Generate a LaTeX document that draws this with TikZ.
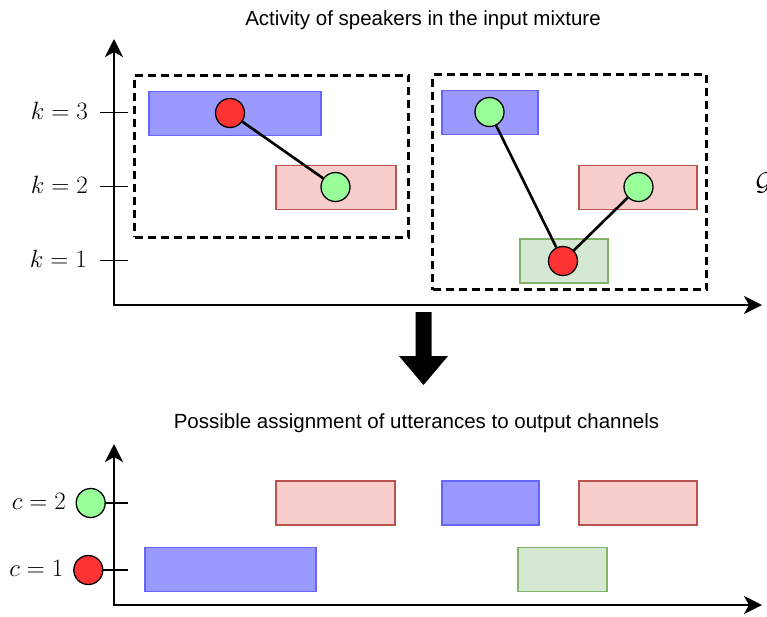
\RequirePackage{fix-cm}
\documentclass[tikz,border=0pt]{standalone}
\usepackage{fontspec}
\newfontfamily\labelsans{Liberation Sans}
\usetikzlibrary{arrows.meta}
\definecolor{spkblue}{HTML}{9999FF}
\definecolor{spkbluedraw}{HTML}{6666FF}
\definecolor{spkred}{HTML}{F8CECC}
\definecolor{spkreddraw}{HTML}{B85450}
\definecolor{spkgreen}{HTML}{D5E8D4}
\definecolor{spkgreendraw}{HTML}{82B366}
\definecolor{dotred}{HTML}{FF3333}
\definecolor{dotgreen}{HTML}{99FF99}
\begin{document}
\begin{tikzpicture}[x=1pt,y=-1pt,
  box/.style={draw, line width=1.1pt, inner sep=0pt, minimum height=44pt},
  bluebox/.style={box, fill=spkblue, draw=spkbluedraw},
  redbox/.style={box, fill=spkred, draw=spkreddraw},
  greenbox/.style={box, fill=spkgreen, draw=spkgreendraw},
  dot/.style={circle, draw=black, line width=1.3pt, minimum size=29pt, inner sep=0pt},
  reddot/.style={dot, fill=dotred},
  greendot/.style={dot, fill=dotgreen},
  link/.style={line width=2.6pt},
  axis/.style={line width=2.6pt, {Stealth[length=18pt,width=18pt,inset=5pt]}-{Stealth[length=18pt,width=18pt,inset=5pt]}},
  tickmark/.style={line width=1.2pt},
  group/.style={draw, line width=3pt, dash pattern=on 8pt off 5pt, inner sep=0pt},
  mathlabel/.style={anchor=base east, inner sep=0pt, font=\fontsize{25}{30}\selectfont},
  title/.style={anchor=base, inner sep=0pt, font=\labelsans\fontsize{20.5}{24}\selectfont}
]
\useasboundingbox (0,0) rectangle (767,616);

% ---------- upper panel: speaker activity ----------
\node[title] (toptitle) at (423,25) {Activity of speakers in the input mixture};

\coordinate (o1) at (114,305);
\coordinate (ytop1) at (114,39);
\coordinate (xend1) at (762,305);
\draw[axis] (ytop1) -- (o1) -- (xend1);

\draw[tickmark] (100,112.7) -- (128,112.7);
\draw[tickmark] (100,186.7) -- (128,186.7);
\draw[tickmark] (100,260.7) -- (128,260.7);
\node[mathlabel] (k3) at (88,119) {$k=3$};
\node[mathlabel] (k2) at (88,193) {$k=2$};
\node[mathlabel] (k1) at (87,267) {$k=1$};

% groups of overlapping utterances
\node[group, minimum width=274pt, minimum height=162pt] (grpA) at (271.5,156) {};
\node[group, minimum width=274pt, minimum height=215pt] (grpB) at (569.5,182) {};
\node[anchor=base west, inner sep=0pt, font=\fontsize{26}{30}\selectfont] (graph) at (755.5,190) {$\mathcal{G}$};

% utterances
\node[bluebox, minimum width=172pt] (uA3) at (235,113.5) {};
\node[redbox, minimum width=120pt] (uA2) at (336,187.5) {};
\node[bluebox, minimum width=96pt] (uB3) at (490,112.5) {};
\node[redbox, minimum width=118pt] (uB2) at (638,187.5) {};
\node[greenbox, minimum width=88pt] (uB1) at (564,261) {};

% colouring of the overlap graph
\node[reddot] (vA3) at (230,113) {};
\node[greendot] (vA2) at (335.5,187) {};
\node[greendot] (vB3) at (489.5,112) {};
\node[greendot] (vB2) at (638.5,187) {};
\node[reddot] (vB1) at (563,261) {};
\draw[link] (vA3) -- (vA2);
\draw[link] (vB3) -- (vB1);
\draw[link] (vB2) -- (vB1);

% ---------- transition arrow ----------
\fill (415.5,312) -- (431.5,312) -- (431.5,356) -- (448,356) -- (423.5,385)
  -- (399,356) -- (415.5,356) -- cycle;

% ---------- lower panel: output channels ----------
\node[title] (bottitle) at (416.5,428.5) {Possible assignment of utterances to output channels};

\coordinate (o2) at (114,605);
\coordinate (ytop2) at (114,444);
\coordinate (xend2) at (762,605);
\draw[axis] (ytop2) -- (o2) -- (xend2);

\draw[tickmark] (100,503) -- (128,503);
\draw[tickmark] (100,570) -- (128,570);
\node[greendot] (ch2) at (90.7,503) {};
\node[reddot] (ch1) at (88.3,570) {};
\node[mathlabel] (c2) at (66,509.3) {$c=2$};
\node[mathlabel] (c1) at (63.5,576.3) {$c=1$};

\node[redbox, minimum width=119pt] (o2a) at (335.5,503) {};
\node[bluebox, minimum width=97pt] (o2b) at (490.5,503) {};
\node[redbox, minimum width=118pt] (o2c) at (638,503) {};
\node[bluebox, minimum width=171pt] (o1a) at (230.5,569.5) {};
\node[greenbox, minimum width=89pt] (o1b) at (562.5,569.5) {};
\end{tikzpicture}
\end{document}
